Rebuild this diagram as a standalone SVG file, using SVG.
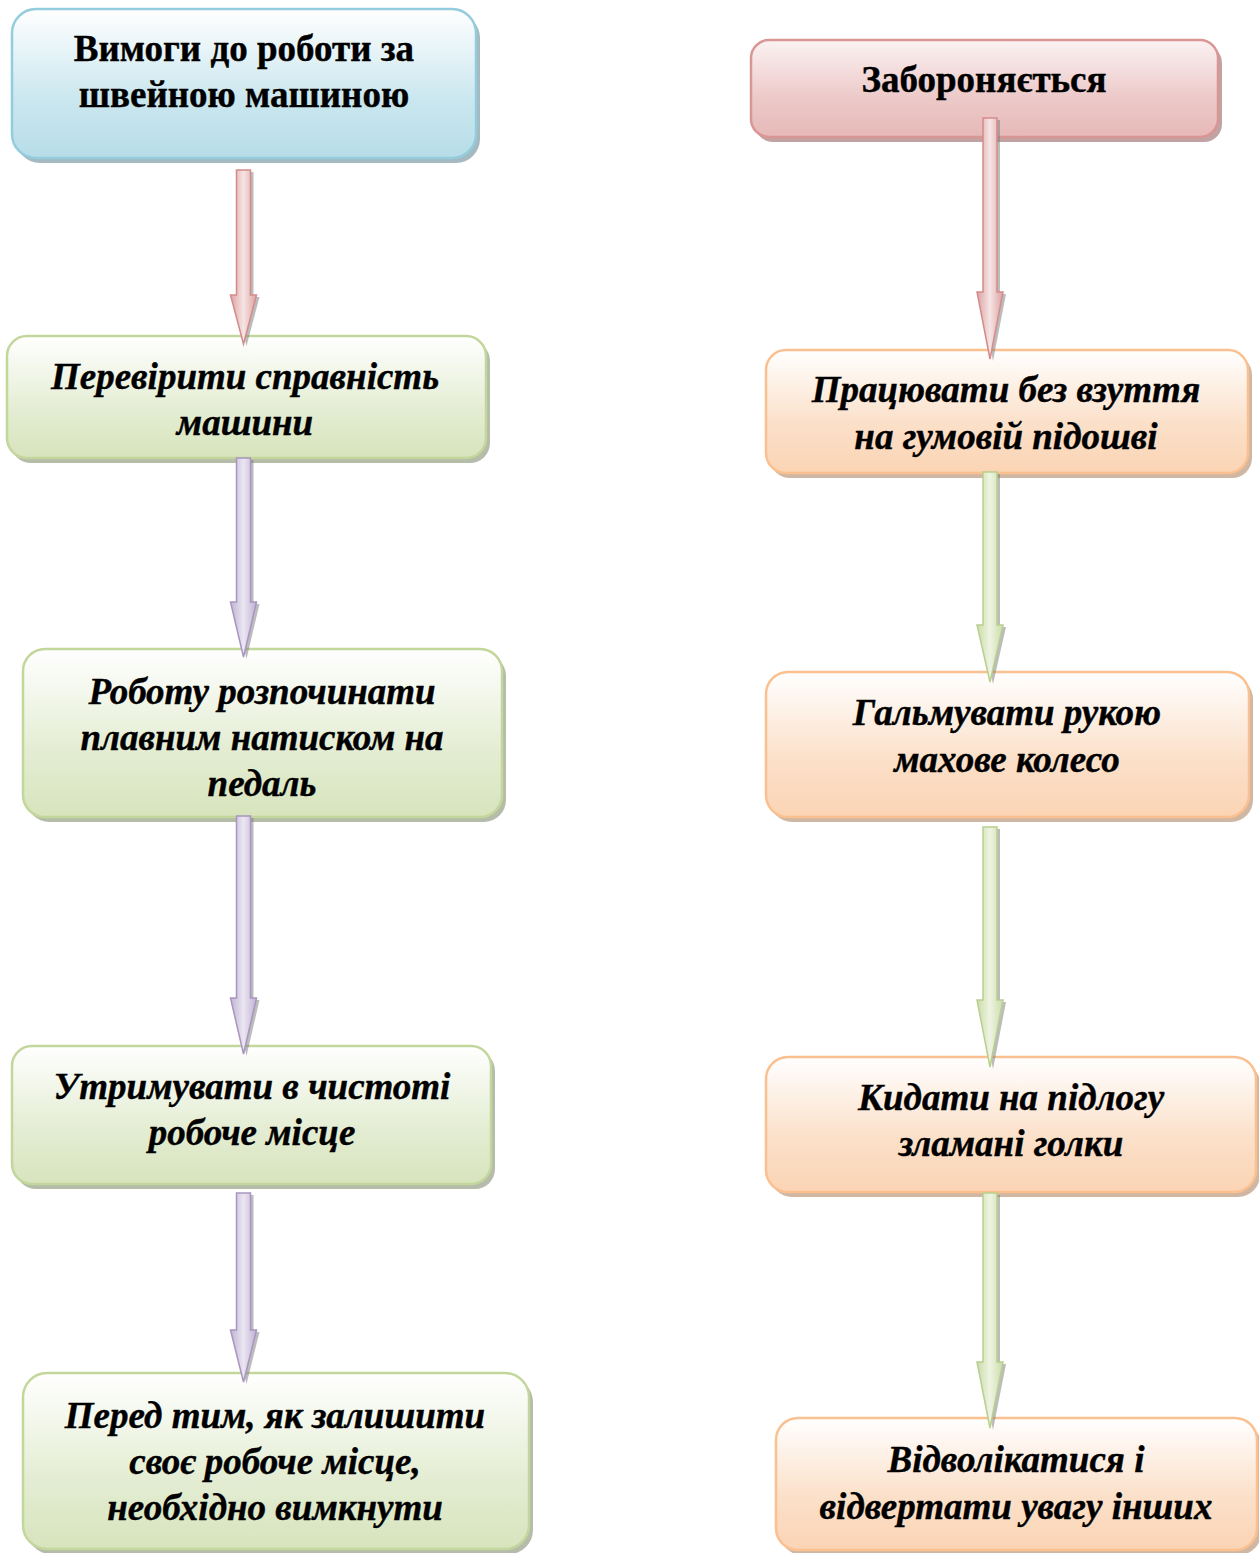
<svg xmlns="http://www.w3.org/2000/svg" width="1259" height="1553" viewBox="0 0 1259 1553">
<defs>
<linearGradient id="gBlue" x1="0" y1="0" x2="0" y2="1"><stop offset="0" stop-color="#ffffff"/><stop offset="0.6" stop-color="#cbe7ef"/><stop offset="1" stop-color="#b7dde8"/></linearGradient>
<linearGradient id="gGreen" x1="0" y1="0" x2="0" y2="1"><stop offset="0" stop-color="#ffffff"/><stop offset="0.6" stop-color="#e4edd3"/><stop offset="1" stop-color="#d7e4bd"/></linearGradient>
<linearGradient id="gPink" x1="0" y1="0" x2="0" y2="1"><stop offset="0" stop-color="#fbf2f2"/><stop offset="0.6" stop-color="#ecc9c8"/><stop offset="1" stop-color="#e6b9b8"/></linearGradient>
<linearGradient id="gOrange" x1="0" y1="0" x2="0" y2="1"><stop offset="0" stop-color="#ffffff"/><stop offset="0.6" stop-color="#fbe0c9"/><stop offset="1" stop-color="#fbd4b4"/></linearGradient>
<linearGradient id="aRed" x1="0" y1="0" x2="1" y2="0"><stop offset="0" stop-color="#dca3a2"/><stop offset="0.5" stop-color="#f6e4e4"/><stop offset="1" stop-color="#dca3a2"/></linearGradient>
<linearGradient id="aPurple" x1="0" y1="0" x2="1" y2="0"><stop offset="0" stop-color="#c0b2d3"/><stop offset="0.5" stop-color="#ebe6f2"/><stop offset="1" stop-color="#c0b2d3"/></linearGradient>
<linearGradient id="aGreen" x1="0" y1="0" x2="1" y2="0"><stop offset="0" stop-color="#cadcaa"/><stop offset="0.5" stop-color="#eef4e2"/><stop offset="1" stop-color="#cadcaa"/></linearGradient>
</defs>
<style>
.t{font-family:"Liberation Serif","Times New Roman",serif;font-weight:bold;font-size:37px;fill:#000;text-anchor:middle;stroke:#000;stroke-width:0.4}
.i{font-style:italic}
.blue{fill:url(#gBlue);stroke:#93cddd;stroke-width:2.5}
.green{fill:url(#gGreen);stroke:#c3d69b;stroke-width:2.5}
.pink{fill:url(#gPink);stroke:#d99694;stroke-width:2.5}
.orange{fill:url(#gOrange);stroke:#fac090;stroke-width:2.5}
.sh{opacity:0.8}
.shB{fill:#8fa9b0}.shG{fill:#a3ab93}.shP{fill:#b08c8b}.shO{fill:#c4a58c}
.ar{stroke-width:1.5;stroke-linejoin:miter}
.arR{fill:url(#aRed);stroke:#d38c8a}
.arP{fill:url(#aPurple);stroke:#a996c0}
.arG{fill:url(#aGreen);stroke:#b9cf8e}
.ash{fill:#7a7a7a;opacity:0.5}
</style>

<g id="node-requirements">
<rect class="sh shB" x="16" y="14" width="464" height="149" rx="24"/>
<rect class="blue" x="12" y="9" width="464" height="149" rx="24"/>
<text class="t" x="244" y="61">Вимоги до роботи за</text>
<text class="t" x="244" y="107">швейною машиною</text>
</g>
<g id="node-check">
<rect class="sh shG" x="11" y="341" width="479" height="122" rx="20"/>
<rect class="green" x="7" y="336" width="479" height="122" rx="20"/>
<text class="t i" x="245" y="389">Перевірити справність</text>
<text class="t i" x="245" y="435">машини</text>
</g>
<g id="node-start">
<rect class="sh shG" x="27" y="654" width="479" height="168" rx="22"/>
<rect class="green" x="23" y="649" width="479" height="168" rx="22"/>
<text class="t i" x="262" y="704">Роботу розпочинати</text>
<text class="t i" x="262" y="750">плавним натиском на</text>
<text class="t i" x="262" y="796">педаль</text>
</g>
<g id="node-clean">
<rect class="sh shG" x="16" y="1051" width="479" height="138" rx="20"/>
<rect class="green" x="12" y="1046" width="479" height="138" rx="20"/>
<text class="t i" x="252" y="1099">Утримувати в чистоті</text>
<text class="t i" x="252" y="1145">робоче місце</text>
</g>
<g id="node-leave">
<rect class="sh shG" x="27" y="1378" width="506" height="176" rx="24"/>
<rect class="green" x="23" y="1373" width="506" height="176" rx="24"/>
<text class="t i" x="275" y="1428">Перед тим, як залишити</text>
<text class="t i" x="275" y="1474">своє робоче місце,</text>
<text class="t i" x="275" y="1520">необхідно вимкнути</text>
</g>

<g id="node-forbidden">
<rect class="sh shP" x="755" y="45" width="467" height="97" rx="18"/>
<rect class="pink" x="751" y="40" width="467" height="97" rx="18"/>
<text class="t" x="984" y="92">Забороняється</text>
</g>
<g id="node-shoes">
<rect class="sh shO" x="770" y="355" width="482" height="123" rx="20"/>
<rect class="orange" x="766" y="350" width="482" height="123" rx="20"/>
<text class="t i" x="1006" y="402">Працювати без взуття</text>
<text class="t i" x="1006" y="449">на гумовій підошві</text>
</g>
<g id="node-brake">
<rect class="sh shO" x="770" y="677" width="483" height="145" rx="22"/>
<rect class="orange" x="766" y="672" width="483" height="145" rx="22"/>
<text class="t i" x="1007" y="725">Гальмувати рукою</text>
<text class="t i" x="1007" y="772">махове колесо</text>
</g>
<g id="node-needles">
<rect class="sh shO" x="770" y="1062" width="490" height="135" rx="22"/>
<rect class="orange" x="766" y="1057" width="490" height="135" rx="22"/>
<text class="t i" x="1011" y="1110">Кидати на підлогу</text>
<text class="t i" x="1011" y="1156">зламані голки</text>
</g>
<g id="node-distract">
<rect class="sh shO" x="780" y="1423" width="481" height="132" rx="22"/>
<rect class="orange" x="776" y="1418" width="481" height="132" rx="22"/>
<text class="t i" x="1016" y="1472">Відволікатися і</text>
<text class="t i" x="1016" y="1519">відвертати увагу інших</text>
</g>

<g id="connectors">
<path class="ash" transform="translate(3,2)" d="M236.5,170 L250.5,170 L250.5,295 L256.5,295 L243.5,344 L230.5,295 L236.5,295 Z"/>
<path class="ar arR" d="M236.5,170 L250.5,170 L250.5,295 L256.5,295 L243.5,344 L230.5,295 L236.5,295 Z"/>

<path class="ash" transform="translate(3,2)" d="M236.5,458 L250.5,458 L250.5,602 L256.5,602 L243.5,657 L230.5,602 L236.5,602 Z"/>
<path class="ar arP" d="M236.5,458 L250.5,458 L250.5,602 L256.5,602 L243.5,657 L230.5,602 L236.5,602 Z"/>

<path class="ash" transform="translate(3,2)" d="M236.5,816 L250.5,816 L250.5,998 L256.5,998 L243.5,1054 L230.5,998 L236.5,998 Z"/>
<path class="ar arP" d="M236.5,816 L250.5,816 L250.5,998 L256.5,998 L243.5,1054 L230.5,998 L236.5,998 Z"/>

<path class="ash" transform="translate(3,2)" d="M236.5,1193 L250.5,1193 L250.5,1330 L256.5,1330 L243.5,1382 L230.5,1330 L236.5,1330 Z"/>
<path class="ar arP" d="M236.5,1193 L250.5,1193 L250.5,1330 L256.5,1330 L243.5,1382 L230.5,1330 L236.5,1330 Z"/>

<path class="ash" transform="translate(3,2)" d="M983,118 L997,118 L997,292 L1003,292 L990,359 L977,292 L983,292 Z"/>
<path class="ar arR" d="M983,118 L997,118 L997,292 L1003,292 L990,359 L977,292 L983,292 Z"/>

<path class="ash" transform="translate(3,2)" d="M983,472 L997,472 L997,625 L1003,625 L990,682 L977,625 L983,625 Z"/>
<path class="ar arG" d="M983,472 L997,472 L997,625 L1003,625 L990,682 L977,625 L983,625 Z"/>

<path class="ash" transform="translate(3,2)" d="M983,827 L997,827 L997,1000 L1003,1000 L990,1067 L977,1000 L983,1000 Z"/>
<path class="ar arG" d="M983,827 L997,827 L997,1000 L1003,1000 L990,1067 L977,1000 L983,1000 Z"/>

<path class="ash" transform="translate(3,2)" d="M983,1193 L997,1193 L997,1362 L1003,1362 L990,1428 L977,1362 L983,1362 Z"/>
<path class="ar arG" d="M983,1193 L997,1193 L997,1362 L1003,1362 L990,1428 L977,1362 L983,1362 Z"/>
</g>
</svg>
